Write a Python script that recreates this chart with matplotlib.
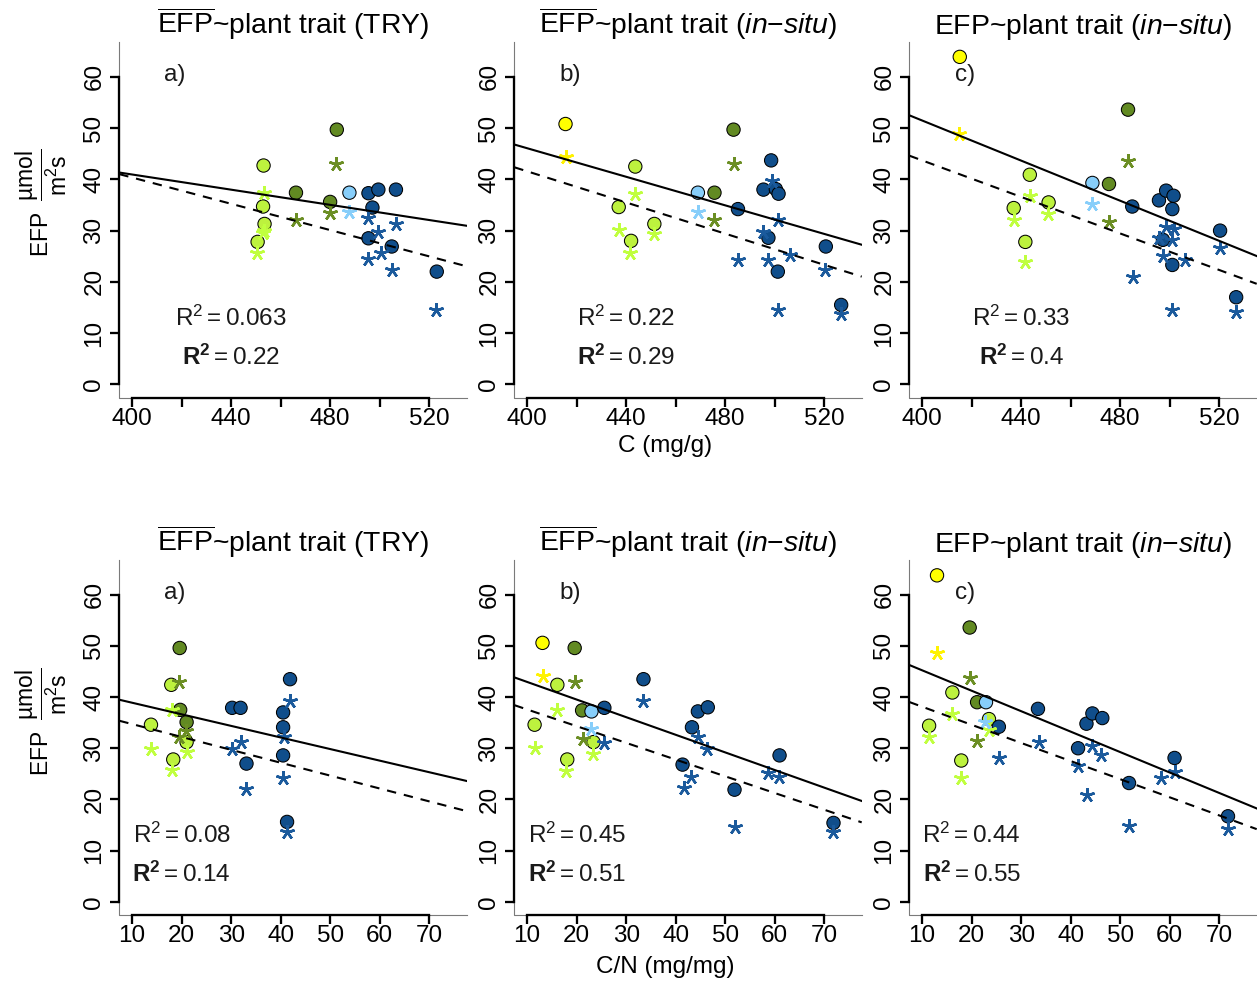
import numpy as np
import matplotlib
matplotlib.use('Agg')
import matplotlib.pyplot as plt

plt.rcParams['font.family'] = ['Liberation Sans', 'DejaVu Sans']
plt.rcParams['mathtext.fontset'] = 'custom'
plt.rcParams['mathtext.rm'] = 'Liberation Sans'
plt.rcParams['mathtext.it'] = 'Liberation Sans:italic'
plt.rcParams['mathtext.bf'] = 'Liberation Sans:bold'

# ---------------- data ----------------
# group codes: Y yellow, L light green, O olive, B light blue, D dark blue
# Panel 1: C (TRY)
c1_x = [453.1, 452.9, 453.5, 450.7, 466.2, 482.7, 480.0, 487.8, 495.5, 499.5, 506.6, 497.1, 495.5, 504.9, 523.1]
c1_y = [42.7, 34.7, 31.3, 27.8, 37.4, 49.7, 35.6, 37.4, 37.3, 38.0, 38.0, 34.5, 28.5, 26.9, 22.0]
c1_g = "LLLLOOOBDDDDDDD"
s1_x = [453.1, 453.3, 452.9, 450.5, 466.2, 482.5, 479.8, 487.8, 495.5, 506.6, 499.5, 500.5, 495.5, 504.9, 522.8]
s1_y = [37.4, 30.0, 29.5, 25.6, 32.1, 42.9, 33.4, 33.7, 32.4, 31.3, 29.8, 25.6, 24.4, 22.4, 14.5]
s1_g = "LLLLOOOBDDDDDDD"
# Panel 2: C (in-situ, mean)
c2_x = [415.5, 443.7, 437.0, 451.4, 442.0, 469.0, 475.7, 483.4, 498.6, 495.5, 500.5, 501.6, 485.2, 497.5, 501.3, 520.7, 526.9]
c2_y = [50.8, 42.5, 34.6, 31.3, 28.0, 37.4, 37.4, 49.7, 43.7, 38.0, 38.1, 37.2, 34.2, 28.6, 22.0, 26.9, 15.5]
c2_g = "YLLLLBOODDDDDDDDD"
s2_x = [415.5, 443.7, 437.0, 451.4, 441.7, 469.0, 475.7, 483.4, 498.9, 501.3, 495.5, 506.3, 485.4, 497.5, 520.4, 501.3, 526.9]
s2_y = [44.4, 37.2, 30.1, 29.4, 25.6, 33.7, 32.1, 42.9, 39.6, 32.1, 29.8, 25.2, 24.3, 24.3, 22.4, 14.5, 13.8]
s2_g = "YLLLLBOODDDDDDDDD"
# Panel 3: C (in-situ)
c3_x = [415.2, 443.5, 437.0, 451.1, 441.7, 468.8, 475.5, 483.2, 484.9, 495.7, 498.6, 501.6, 501.1, 497.3, 501.1, 520.4, 526.9]
c3_y = [63.9, 40.9, 34.4, 35.5, 27.8, 39.3, 39.1, 53.6, 34.7, 35.9, 37.8, 36.8, 34.2, 28.2, 23.3, 30.0, 17.0]
c3_g = "YLLLLBOODDDDDDDDD"
s3_x = [414.9, 443.5, 437.0, 450.9, 441.7, 468.6, 475.5, 483.2, 485.2, 498.6, 501.6, 501.1, 495.7, 497.3, 506.4, 501.1, 520.4, 526.9]
s3_y = [48.9, 36.7, 32.0, 33.3, 23.9, 35.2, 31.6, 43.5, 20.9, 30.8, 30.3, 28.2, 28.5, 25.0, 24.3, 14.6, 26.6, 14.1]
s3_g = "YLLLLBOODDDDDDDDDD"
# Panel 4: C/N (TRY)
c4_x = [13.8, 17.9, 18.3, 21.0, 19.6, 19.7, 21.0, 30.2, 31.9, 33.1, 41.9, 40.5, 40.5, 40.5, 41.3]
c4_y = [34.6, 42.4, 27.8, 31.2, 49.6, 37.5, 35.1, 37.9, 37.9, 27.0, 43.5, 37.0, 34.1, 28.6, 15.6]
c4_g = "LLLLOOODDDDDDDD"
s4_x = [13.8, 18.1, 18.1, 21.1, 19.4, 19.4, 20.8, 30.2, 31.9, 33.1, 41.9, 40.6, 40.5, 41.3]
s4_y = [29.9, 37.4, 25.7, 29.2, 42.9, 32.2, 33.3, 29.9, 31.2, 22.1, 39.3, 32.2, 24.1, 13.7]
s4_g = "LLLLOOODDDDDDD"
# Panel 5: C/N (in-situ, mean)
c5_x = [13.1, 19.6, 16.1, 11.5, 18.1, 23.4, 21.1, 23.0, 25.6, 33.5, 43.3, 44.5, 46.5, 41.4, 51.9, 61.0, 71.9]
c5_y = [50.6, 49.6, 42.4, 34.6, 27.8, 31.2, 37.4, 37.2, 37.9, 43.5, 34.1, 37.2, 38.0, 26.8, 21.9, 28.6, 15.4]
c5_g = "YOLLLLOBDDDDDDDDD"
s5_x = [13.1, 19.6, 16.1, 11.5, 17.9, 23.4, 21.2, 22.8, 25.6, 33.5, 44.5, 46.3, 43.2, 41.6, 51.9, 58.6, 60.9, 71.9]
s5_y = [44.2, 42.9, 37.4, 30.1, 25.5, 28.9, 31.8, 33.8, 31.0, 39.3, 32.2, 29.9, 24.4, 22.2, 14.7, 25.2, 24.4, 13.7]
s5_g = "YOLLLLOBDDDDDDDDDD"
# Panel 6: C/N (in-situ)
c6_x = [13.0, 19.6, 16.1, 11.4, 17.9, 23.5, 21.1, 22.9, 25.5, 33.4, 43.2, 44.4, 46.4, 41.5, 51.8, 61.0, 71.8]
c6_y = [63.8, 53.6, 40.9, 34.4, 27.6, 35.7, 39.0, 39.0, 34.2, 37.7, 34.8, 36.8, 35.9, 30.0, 23.2, 28.1, 16.7]
c6_g = "YOLLLLOBDDDDDDDDD"
s6_x = [13.0, 19.6, 16.1, 11.4, 17.9, 23.5, 21.1, 22.7, 25.5, 33.6, 44.4, 46.2, 41.5, 43.3, 51.8, 58.3, 61.0, 71.8]
s6_y = [48.7, 43.7, 36.6, 32.2, 24.1, 33.5, 31.4, 35.1, 28.0, 31.2, 30.4, 28.6, 26.5, 20.8, 14.8, 24.1, 25.4, 14.3]
s6_g = "YOLLLLOBDDDDDDDDDD"

r2_plain = ["0.063", "0.22", "0.33", "0.08", "0.45", "0.44"]
r2_bold = ["0.22", "0.29", "0.4", "0.14", "0.51", "0.55"]
panel_letters = ["a)", "b)", "c)", "a)", "b)", "c)"]
xticks_C = [400, 420, 440, 460, 480, 500, 520]
xticklabels_C = ["400", "", "440", "", "480", "", "520"]
xticks_CN = [10, 20, 30, 40, 50, 60, 70]
xticklabels_CN = ["10", "20", "30", "40", "50", "60", "70"]
yticks = [0, 10, 20, 30, 40, 50, 60]

circle_col = {'Y': '#FFFF00', 'L': '#BDF23E', 'O': '#628A22', 'B': '#87CEFA', 'D': '#104E8B'}
star_col = {'Y': '#FFF200', 'L': '#C0FF3E', 'O': '#6B8E23', 'B': '#87CEFA', 'D': '#1B5A9C'}

titles = [r'$\overline{\mathrm{EFP}}$~plant trait (TRY)',
          r'$\overline{\mathrm{EFP}}$~plant trait ($\mathit{in}$−$\mathit{situ}$)',
          r'EFP~plant trait ($\mathit{in}$−$\mathit{situ}$)']

panels = [
    (c1_x, c1_y, c1_g, s1_x, s1_y, s1_g),
    (c2_x, c2_y, c2_g, s2_x, s2_y, s2_g),
    (c3_x, c3_y, c3_g, s3_x, s3_y, s3_g),
    (c4_x, c4_y, c4_g, s4_x, s4_y, s4_g),
    (c5_x, c5_y, c5_g, s5_x, s5_y, s5_g),
    (c6_x, c6_y, c6_g, s6_x, s6_y, s6_g),
]

# ---------------- layout ----------------
W, H = 1257, 984
fig = plt.figure(figsize=(W / 100, H / 100), dpi=100)
lefts_px = [119.3, 514.3, 909.3]
width_px = 347.4
rows_px = [(42.0, 397.7), (560.0, 915.0)]

FS = 17.5
for i, (cx, cy, cg, sx, sy, sg) in enumerate(panels):
    row, col = divmod(i, 3)
    top, bot = rows_px[row]
    ax = fig.add_axes([lefts_px[col] / W, 1 - bot / H, width_px / W, (bot - top) / H])
    ax.patch.set_alpha(0)
    if row == 0:
        ax.set_xlim(394.8, 535.2)
        ax.set_xticks(xticks_C)
        ax.set_xticklabels(xticklabels_C)
        ax.spines['bottom'].set_bounds(400, 520)
        tx = 440
        ty1, ty2 = 12.8, 5.2
    else:
        ax.set_xlim(7.4, 77.6)
        ax.set_xticks(xticks_CN)
        ax.set_xticklabels(xticklabels_CN)
        ax.spines['bottom'].set_bounds(10, 70)
        tx = 20
        ty1, ty2 = 12.9, 5.3
    ax.set_ylim(-2.6, 66.8)
    ax.set_yticks(yticks)
    ax.spines['left'].set_bounds(0, 60)
    for s in ['top', 'right']:
        ax.spines[s].set_visible(False)
    for s in ['left', 'bottom']:
        ax.spines[s].set_linewidth(1.65)
        ax.spines[s].set_color('black')
        ax.spines[s].set_zorder(5)
    # thin L-shaped box
    ax.plot([0, 0, 1], [1, 0, 0], transform=ax.transAxes, color='#7a7a7a',
            lw=0.8, clip_on=False, zorder=1)
    ax.tick_params(axis='both', direction='out', length=6.5, width=1.65,
                   labelsize=FS, colors='black')
    ax.tick_params(axis='x', pad=0.8)
    ax.tick_params(axis='y', pad=3.5, labelrotation=90)
    for lbl in ax.get_yticklabels():
        lbl.set_va('center')

    cx = np.asarray(cx); cy = np.asarray(cy)
    sx = np.asarray(sx); sy = np.asarray(sy)
    ax.scatter(cx, cy, s=92, c=[circle_col[g] for g in cg], edgecolors='black',
               linewidths=0.75, zorder=2, clip_on=False)
    for g in "YLOBD":
        idx = [k for k, gg in enumerate(sg) if gg == g]
        if idx:
            ax.plot(sx[idx], sy[idx], linestyle='none', marker=(5, 2, 0),
                    markersize=10.5, markeredgewidth=1.8, color=star_col[g],
                    zorder=3, clip_on=False)

    m1, b1 = np.polyfit(cx, cy, 1)
    ax.axline((cx.mean(), cx.mean() * m1 + b1), slope=m1, color='black', lw=1.5, zorder=4)
    m2, b2 = np.polyfit(sx, sy, 1)
    ax.axline((sx.mean(), sx.mean() * m2 + b2), slope=m2, color='black', lw=1.5,
              linestyle=(0, (4.5, 3.8)), zorder=4)

    ax.text(tx, ty1, r'$\mathrm{R}^{2} = %s$' % r2_plain[i], ha='center', va='center',
            fontsize=FS, color='#1a1a1a', zorder=6)
    ax.text(tx, ty2, r'$\mathbf{R}^{\mathbf{2}} = \mathrm{%s}$' % r2_bold[i], ha='center',
            va='center', fontsize=FS, color='#1a1a1a', zorder=6)
    ax.text(0.16, 0.907, panel_letters[i], transform=ax.transAxes, ha='center',
            va='center', fontsize=FS, color='#1a1a1a', zorder=6)
    ax.set_title(titles[col], fontsize=20.4, pad=5.8, color='black')

# y labels
ylab = r'EFP $\;\dfrac{\mathrm{µmol}}{\mathrm{m^{2}s}}$'
fig.text(41 / W, 1 - 203 / H, ylab, rotation=90, ha='center', va='center', fontsize=16.5)
fig.text(41 / W, 1 - 722 / H, ylab, rotation=90, ha='center', va='center', fontsize=16.5)
# x labels
fig.text(665 / W, 1 - 446 / H, 'C (mg/g)', ha='center', va='center', fontsize=FS)
fig.text(665 / W, 1 - 967 / H, 'C/N (mg/mg)', ha='center', va='center', fontsize=FS)

fig.savefig('out.png', dpi=100, facecolor='white')
